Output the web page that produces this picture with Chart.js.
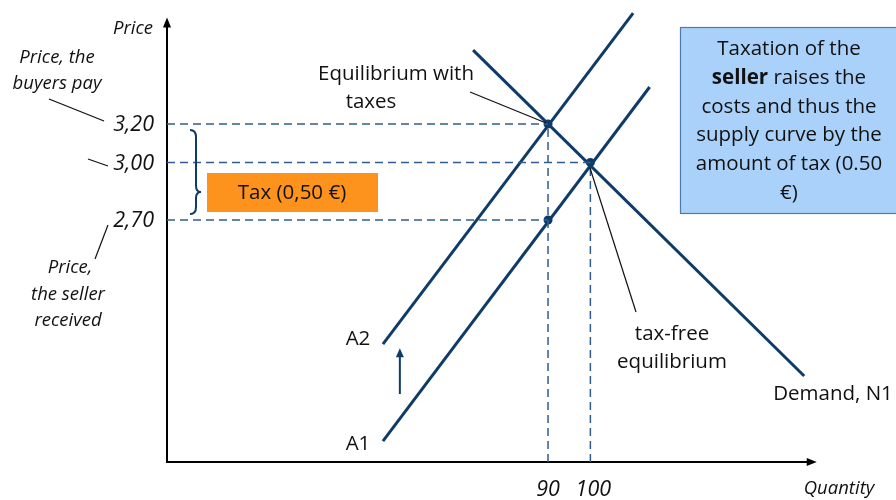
<!DOCTYPE html>
<html>
<head>
<meta charset="utf-8">
<script src="https://cdn.jsdelivr.net/npm/chart.js@4.4.1/dist/chart.umd.min.js"></script>
<style>
  body { margin: 0; background: #fff; }
  #wrap { width: 896px; height: 500px; }
</style>
</head>
<body>
<div id="wrap"><canvas id="taxChart" width="896" height="500"></canvas></div>
<script>
// quantity / price readings from the diagram
const demandN1 = [{x: 72.3, y: 3.585}, {x: 150.5, y: 1.888}];
const supplyA1 = [{x: 51.0, y: 1.549}, {x: 114.0, y: 3.393}];
const supplyA2 = [{x: 51.0, y: 2.054}, {x: 110.1, y: 3.778}];

// equilibrium points: with tax (buyers / seller price) and tax-free
const eqPoints = [{x: 90, y: 3.20}, {x: 100, y: 3.00}, {x: 90, y: 2.70}];

// tick labels
const priceTicks = [3.20, 3.00, 2.70];
const priceLabels = ['3,20', '3,00', '2,70'];
const quantityTicks = [90, 100];
const quantityLabels = ['90', '100'];

// shift arrow between A1 and A2
const shiftArrow = [{x: 55.0, y: 1.794}, {x: 55.0, y: 2.033}];

const navy = '#0f3b69';
const dashBlue = '#2f5d90';
const txtFont = '"Open Sans", Lato, sans-serif';
const bodySize = '20.5px ';

// dashed guide lines from axes to the points
function guideData() {
    let sets = [];
    sets.push([{x: 0, y: eqPoints[0].y}, eqPoints[0]]);
    sets.push([{x: 0, y: eqPoints[1].y}, eqPoints[1]]);
    sets.push([{x: 0, y: eqPoints[2].y}, eqPoints[2]]);
    sets.push([{x: eqPoints[0].x, y: 1.44}, eqPoints[0]]);
    sets.push([{x: eqPoints[1].x, y: 1.44}, eqPoints[1]]);
    return sets.map(d => ({
        data: d, borderColor: dashBlue, borderWidth: 1.5, borderDash: [8, 5],
        pointRadius: 0, fill: false
    }));
}

function solid(d) {
    return {data: d, borderColor: navy, borderWidth: 3, pointRadius: 0, fill: false};
}

//draws axes, labels and notes on top of the plot
const notesPlugin = {
    id: 'notes',
    beforeDatasetsDraw(chart) {
        const ctx = chart.ctx;
        const xs = chart.scales.x, ys = chart.scales.y;
        const x0 = xs.getPixelForValue(0), y0 = ys.getPixelForValue(1.44);
        const xEnd = xs.getPixelForValue(153), yTop = ys.getPixelForValue(3.745);
        ctx.save();
        ctx.strokeStyle = '#000';
        ctx.fillStyle = '#000';
        ctx.lineWidth = 2;
        ctx.beginPath();
        ctx.moveTo(x0, yTop + 6); ctx.lineTo(x0, y0); ctx.lineTo(xEnd - 6, y0);
        ctx.stroke();
        // arrow heads
        ctx.beginPath();
        ctx.moveTo(x0, yTop - 2); ctx.lineTo(x0 - 4, yTop + 8); ctx.lineTo(x0 + 4, yTop + 8); ctx.closePath();
        ctx.fill();
        ctx.beginPath();
        ctx.moveTo(xEnd + 2, y0); ctx.lineTo(xEnd - 8, y0 - 4); ctx.lineTo(xEnd - 8, y0 + 4); ctx.closePath();
        ctx.fill();
        ctx.restore();
    },
    afterDraw(chart) {
        const ctx = chart.ctx;
        const xs = chart.scales.x, ys = chart.scales.y;
        ctx.save();
        ctx.fillStyle = '#111';
        ctx.textBaseline = 'middle';

        // price ticks
        ctx.font = 'italic 21.5px ' + txtFont;
        ctx.textAlign = 'right';
        priceTicks.forEach((v, i) => ctx.fillText(priceLabels[i], 154, ys.getPixelForValue(v) + 1));
        // quantity ticks
        ctx.textAlign = 'center';
        quantityTicks.forEach((v, i) => ctx.fillText(quantityLabels[i], xs.getPixelForValue(v) + (i ? 3 : 0), 490));

        ctx.font = 'italic 18.5px ' + txtFont;
        ctx.textAlign = 'right';
        ctx.fillText('Price', 153, 29);
        ctx.textAlign = 'center';
        ctx.fillText('Quantity', 839, 489);
        ctx.fillText('Price, the', 57, 58);
        ctx.fillText('buyers pay', 57, 84);
        ctx.fillText('Price,', 70, 268);
        ctx.fillText('the seller', 68, 295);
        ctx.fillText('received', 68, 321);

        // thin leader lines
        ctx.strokeStyle = '#111';
        ctx.lineWidth = 1.2;
        const leaders = [[49, 99, 104, 121], [88, 159, 108, 166], [108, 225, 95, 259],
                         [470, 92, 546, 123], [590, 168, 636, 312]];
        leaders.forEach(l => {
            ctx.beginPath(); ctx.moveTo(l[0], l[1]); ctx.lineTo(l[2], l[3]); ctx.stroke();
        });

        // brace for the tax
        ctx.strokeStyle = navy;
        ctx.lineWidth = 2;
        ctx.beginPath();
        ctx.moveTo(190, 130);
        ctx.quadraticCurveTo(196, 130, 196, 137);
        ctx.lineTo(196, 186);
        ctx.quadraticCurveTo(196, 192, 201, 192);
        ctx.quadraticCurveTo(196, 192, 196, 198);
        ctx.lineTo(196, 207);
        ctx.quadraticCurveTo(196, 214, 190, 214);
        ctx.stroke();

        // orange tax box
        ctx.fillStyle = '#fd921c';
        ctx.fillRect(207, 173, 171, 39);
        ctx.fillStyle = '#111';
        ctx.font = bodySize + txtFont;
        ctx.fillText('Tax (0,50 €)', 292, 193);

        // curve labels
        ctx.fillText('Equilibrium with', 396, 74);
        ctx.fillText('taxes', 371, 102);
        ctx.fillText('tax-free', 672, 334);
        ctx.fillText('equilibrium', 672, 362);
        ctx.fillText('A2', 358, 339);
        ctx.fillText('A1', 358, 444);
        ctx.fillText('Demand, N1', 833, 394);

        // shift arrow
        const ax = xs.getPixelForValue(shiftArrow[0].x);
        const ay1 = ys.getPixelForValue(shiftArrow[0].y), ay2 = ys.getPixelForValue(shiftArrow[1].y);
        ctx.strokeStyle = navy;
        ctx.fillStyle = navy;
        ctx.lineWidth = 2;
        ctx.beginPath(); ctx.moveTo(ax, ay1); ctx.lineTo(ax, ay2 + 6); ctx.stroke();
        ctx.beginPath(); ctx.moveTo(ax, ay2); ctx.lineTo(ax - 4, ay2 + 9); ctx.lineTo(ax + 4, ay2 + 9); ctx.closePath(); ctx.fill();

        // blue explanation box
        ctx.fillStyle = '#a9d1f9';
        ctx.fillRect(680, 27, 218, 186);
        ctx.strokeStyle = '#4f7aab';
        ctx.lineWidth = 1.2;
        ctx.strokeRect(680.5, 27.5, 218, 186);
        ctx.fillStyle = '#111';
        ctx.font = bodySize + txtFont;
        const cx = 789;
        ctx.fillText('Taxation of the', cx, 49);
        // bold word in second line
        ctx.font = 'bold ' + bodySize + txtFont;
        const wB = ctx.measureText('seller').width;
        ctx.font = bodySize + txtFont;
        const wR = ctx.measureText(' raises the').width;
        ctx.textAlign = 'left';
        ctx.font = 'bold ' + bodySize + txtFont;
        ctx.fillText('seller', cx - (wB + wR) / 2, 78);
        ctx.font = bodySize + txtFont;
        ctx.fillText(' raises the', cx - (wB + wR) / 2 + wB, 78);
        ctx.textAlign = 'center';
        ctx.fillText('costs and thus the', cx, 107);
        ctx.fillText('supply curve by the', cx, 135);
        ctx.fillText('amount of tax (0.50', cx, 164);
        ctx.fillText('€)', cx, 193);
        ctx.restore();
    }
};

document.addEventListener('DOMContentLoaded', function() {
    const ctx = document.getElementById('taxChart').getContext('2d');
    let datasets = guideData();
    datasets.push(solid(demandN1));
    datasets.push(solid(supplyA1));
    datasets.push(solid(supplyA2));
    datasets.push({
        data: eqPoints, showLine: false, pointRadius: 4.5,
        pointBackgroundColor: navy, pointBorderColor: navy, borderWidth: 0
    });

    new Chart(ctx, {
        type: 'line',
        data: {datasets: datasets},
        options: {
            responsive: false,
            animation: false,
            events: [],
            clip: false,
            layout: {padding: {left: 167, right: 77, top: 19, bottom: 38}},
            plugins: {legend: {display: false}, tooltip: {enabled: false}},
            scales: {
                x: {type: 'linear', min: 0, max: 154, display: false},
                y: {type: 'linear', min: 1.44, max: 3.747, display: false}
            }
        },
        plugins: [notesPlugin]
    });
});
</script>
</body>
</html>
